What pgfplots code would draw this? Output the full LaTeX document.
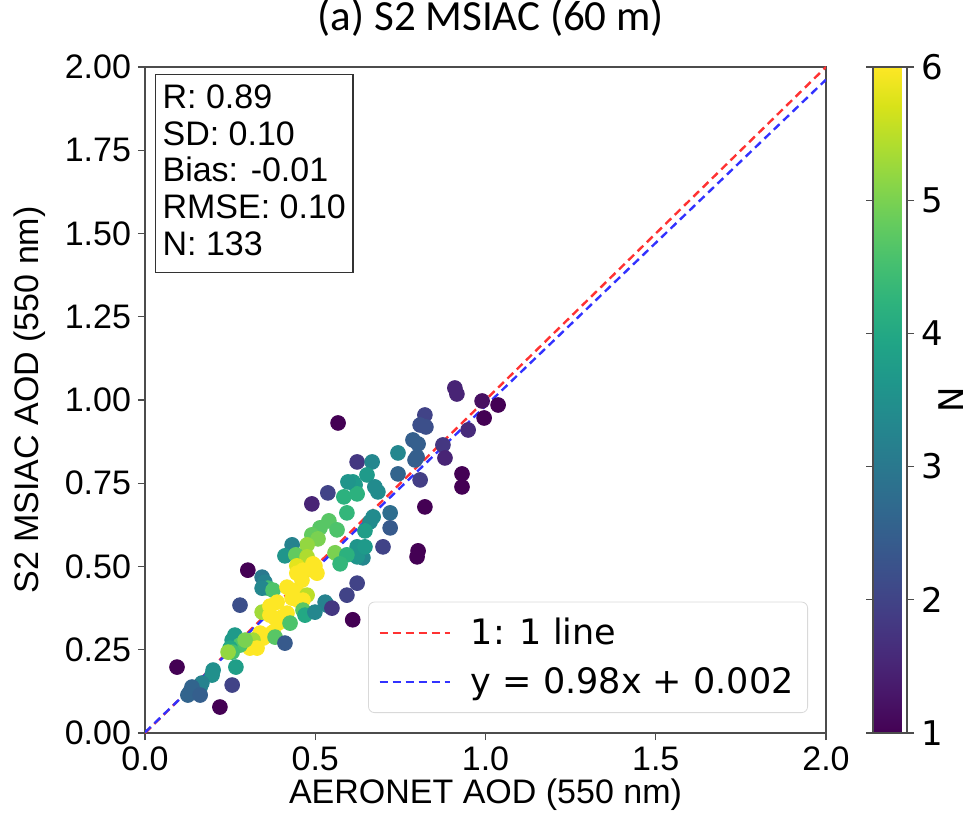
\documentclass[border=0pt]{standalone}
\usepackage{pgfplots}
\pgfplotsset{compat=1.18}
\usepackage{fontspec}
\setmainfont{Liberation Sans}
\newfontfamily\titlefont{Carlito}
\newfontfamily\dejavu{DejaVu Sans}

\definecolor{lred}{RGB}{255,50,50}
\definecolor{lblue}{RGB}{50,50,255}

\pgfplotstableread{
x y n
0.910 1.036 1.5
0.916 1.018 1.5
0.990 0.997 1.2
1.037 0.985 1.0
0.996 0.946 1.0
0.949 0.910 1.6
0.822 0.955 2.0
0.808 0.925 2.2
0.825 0.919 2.2
0.787 0.880 2.5
0.802 0.868 2.5
0.743 0.841 3.3
0.875 0.865 1.8
0.881 0.826 1.5
0.799 0.829 2.5
0.793 0.820 2.5
0.623 0.814 1.8
0.667 0.814 3.3
0.652 0.775 3.7
0.743 0.778 2.6
0.808 0.760 1.9
0.931 0.778 1.0
0.931 0.739 1.0
0.611 0.754 3.7
0.617 0.745 3.7
0.623 0.718 4.2
0.675 0.739 3.4
0.684 0.724 3.4
0.822 0.679 1.0
0.720 0.661 2.8
0.670 0.649 3.4
0.661 0.634 3.4
0.646 0.607 3.8
0.720 0.616 2.4
0.699 0.559 2.0
0.802 0.547 1.0
0.799 0.529 1.0
0.623 0.559 3.6
0.631 0.550 3.6
0.640 0.526 3.3
0.623 0.529 3.6
0.646 0.559 3.7
0.567 0.931 1.0
0.537 0.721 2.0
0.490 0.688 1.5
0.596 0.754 3.6
0.584 0.709 4.2
0.593 0.661 4.3
0.540 0.637 4.7
0.514 0.616 4.7
0.564 0.610 4.6
0.490 0.595 4.8
0.508 0.583 5.0
0.476 0.565 5.2
0.432 0.565 3.2
0.411 0.532 3.6
0.443 0.535 4.8
0.476 0.529 5.4
0.558 0.541 5.0
0.593 0.535 4.2
0.573 0.508 4.3
0.446 0.502 5.8
0.493 0.508 6.0
0.302 0.489 1.0
0.344 0.468 3.0
0.352 0.453 3.2
0.361 0.435 4.5
0.344 0.435 3.3
0.376 0.429 4.6
0.464 0.489 6.0
0.505 0.480 6.0
0.499 0.502 6.0
0.493 0.489 6.0
0.446 0.480 6.0
0.417 0.438 6.0
0.432 0.429 6.0
0.446 0.420 6.0
0.461 0.459 6.0
0.476 0.414 5.5
0.432 0.405 6.0
0.449 0.399 6.0
0.464 0.399 6.0
0.388 0.393 6.0
0.279 0.384 2.2
0.344 0.363 5.3
0.367 0.381 6.0
0.367 0.354 6.0
0.382 0.345 6.0
0.402 0.348 6.0
0.417 0.360 6.0
0.391 0.330 6.0
0.464 0.369 4.7
0.470 0.354 4.0
0.529 0.393 3.2
0.535 0.384 3.2
0.499 0.363 3.3
0.549 0.375 1.8
0.593 0.414 2.0
0.610 0.340 1.0
0.623 0.450 2.0
0.426 0.330 4.6
0.376 0.303 6.0
0.361 0.294 6.0
0.338 0.300 6.0
0.332 0.285 6.0
0.347 0.285 6.0
0.317 0.279 5.3
0.314 0.264 5.3
0.308 0.255 6.0
0.329 0.255 6.0
0.382 0.288 4.7
0.411 0.270 2.4
0.264 0.294 3.7
0.256 0.279 3.7
0.279 0.264 4.6
0.250 0.255 4.0
0.256 0.243 4.5
0.294 0.279 5.0
0.244 0.243 5.2
0.267 0.198 3.8
0.200 0.189 3.5
0.197 0.174 3.5
0.094 0.198 1.0
0.167 0.150 3.2
0.162 0.138 3.2
0.138 0.138 2.6
0.132 0.123 2.6
0.126 0.114 2.6
0.162 0.114 2.5
0.256 0.144 2.0
0.220 0.078 1.0
}\aodpoints

\begin{document}
\begin{tikzpicture}
\begin{axis}[
  scale only axis,
  width=340.5pt, height=333pt,
  xmin=0, xmax=2, ymin=0, ymax=2,
  xtick={0,0.5,1,1.5,2},
  ytick={0,0.25,0.5,0.75,1,1.25,1.5,1.75,2},
  xticklabel style={/pgf/number format/.cd, fixed, fixed zerofill, precision=1, assume math mode=true},
  yticklabel style={/pgf/number format/.cd, fixed, fixed zerofill, precision=2, assume math mode=true},
  ticklabel style={font=\fontsize{17}{20}\selectfont},
  tick align=outside, tick pos=left,
  major tick length=3.5pt,
  tick style={black!70, line width=0.6pt},
  axis line style={black!70, line width=0.6pt},
  xlabel={AERONET AOD (550 nm)},
  ylabel={S2 MSIAC AOD (550 nm)},
  label style={font=\fontsize{17}{20}\selectfont},
  xlabel style={at={(axis description cs:0.5,-0.0931)}, anchor=center},
  ylabel style={at={(axis description cs:-0.169,0.5)}, anchor=center},
  title={\titlefont\fontsize{21.5}{24}\selectfont (a) S2 MSIAC (60 m)},
  title style={at={(axis description cs:0.508,1.0556)}, anchor=center},
  colormap/viridis,
  point meta min=1, point meta max=6,
  colorbar,
  colorbar style={
    scale only axis,
    width=17pt,
    at={(parent axis.north east)}, anchor=north west, xshift=15pt,
    ytick={1,2,3,4,5,6},
    yticklabel style={font=\dejavu\fontsize{17}{20}\selectfont, /pgf/number format/assume math mode=true},
    ylabel={N},
    ylabel style={font=\dejavu\fontsize{17}{20}\selectfont, at={(axis description cs:2.3,0.5)}, anchor=center},
    tick align=outside, major tick length=3.5pt,
    tick style={black!70, line width=0.6pt},
    axis line style={black!70, line width=0.6pt},
  },
  legend style={
    at={(1,0)}, anchor=south east, xshift=-9pt, yshift=10pt,
    font=\dejavu\fontsize{17.5}{21}\selectfont,
    draw=black!15, rounded corners=3pt, fill=white,
    inner xsep=5pt, inner ysep=6pt, row sep=6pt,
  },
  legend cell align=left,
  legend image code/.code={\draw[#1] (0pt,0pt) -- (35pt,0pt);},
]
\addplot[scatter, only marks, mark=*, mark size=3.7pt,
  scatter/use mapped color={draw=mapped color, fill=mapped color},
  point meta=explicit, forget plot] table[x=x, y=y, meta=n] {\aodpoints};

\addplot[lred, line width=1.2pt, dash pattern=on 4pt off 2.5pt] coordinates {(0,0) (2,2)};
\addlegendentry{\hspace{8pt}1: 1 line}
\addplot[lblue, line width=1.2pt, dash pattern=on 4pt off 2.5pt] coordinates {(0,0.002) (2,1.962)};
\addlegendentry{\hspace{8pt}y = 0.98x + 0.002}

\node[draw=black!80, line width=0.6pt, fill=white, anchor=north west, align=left,
  inner xsep=3.5pt, inner ysep=5pt, font=\fontsize{17}{18.4}\selectfont]
  at ([xshift=5pt, yshift=-3.5pt]rel axis cs:0,1)
  {R: 0.89\\SD: 0.10\\Bias: -0.01\\RMSE: 0.10\\N: 133\rule[-3.5pt]{0pt}{3.5pt}};
\end{axis}
\pgfresetboundingbox
\path[use as bounding box] ([xshift=-72.5pt, yshift=-40.5pt]current axis.south west)
  rectangle ([xshift=71pt, yshift=33.5pt]current axis.north east);
\end{tikzpicture}
\end{document}
